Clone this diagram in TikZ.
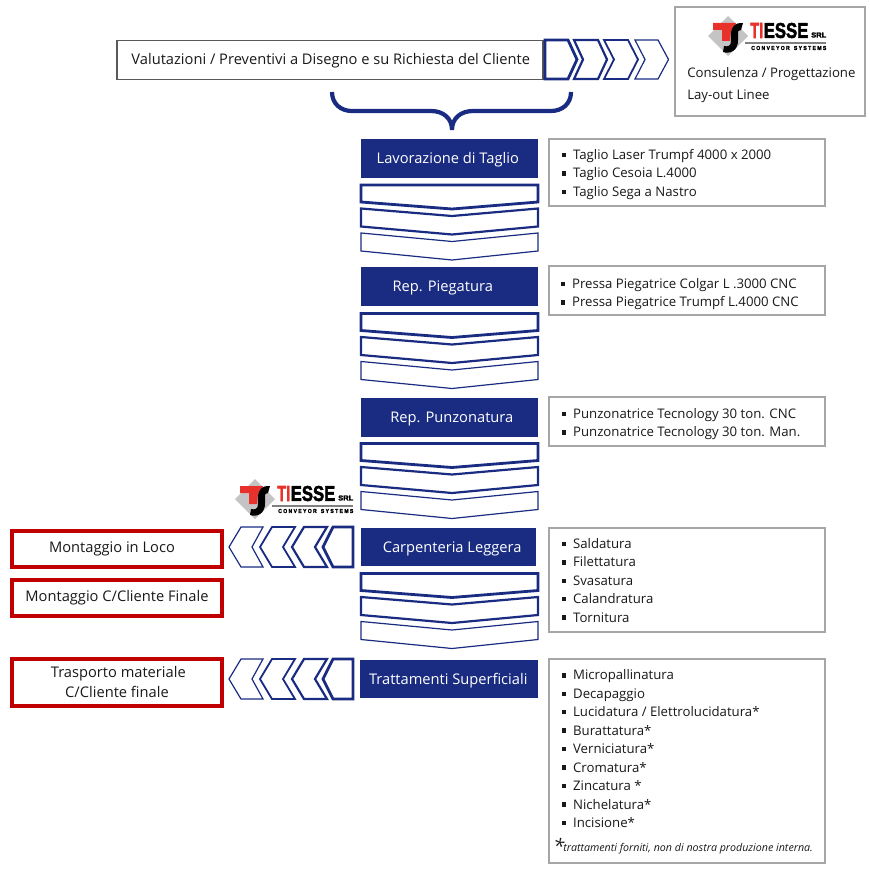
\documentclass[tikz,border=0pt]{standalone}
\usepackage{fontspec}
\setmainfont{Open Sans}
\newfontfamily\logofont[BoldFeatures={FakeBold=2.5}]{Liberation Sans}
\definecolor{tsblue}{HTML}{1A2C82}
\definecolor{tsgrey}{HTML}{A6A6A6}
\definecolor{tsred}{HTML}{C00000}
\definecolor{logored}{HTML}{E8312A}
\definecolor{logogrey}{HTML}{C4C4C4}
\def\px{0.75pt}
\tikzset{
  txt/.style={font=\fontsize{9.9pt}{13.85pt}\selectfont,text=black!90,inner sep=0pt},
  bluebox/.style={fill=tsblue,draw=none,text=white,font=\fontsize{11pt}{12pt}\selectfont,inner sep=0pt,text height=10pt,text depth=2.2pt},
  greybox/.style={draw=tsgrey,line width=2*\px,fill=white},
  redbox/.style={draw=tsred,line width=4*\px,fill=white,font=\fontsize{11pt}{14.8pt}\selectfont,text=black!90,align=center,inner sep=0pt},
  chevA/.style={draw=tsblue,line width=2.8*\px,fill=white,line join=miter},
  chevB/.style={draw=tsblue,line width=2.2*\px,fill=white,line join=miter},
  chevC/.style={draw=tsblue,line width=1.8*\px,fill=white,line join=miter},
  chevD/.style={draw=tsblue,line width=1.2*\px,fill=white,line join=miter},
  listtxt/.style={txt,anchor=north west,align=left},
}
\newcommand{\itm}{\rule[0.17em]{0.34em}{0.34em}\hspace{0.52em}}
\newcommand{\shiftx}[1]{\hspace*{#1pt}}
% vertical group of three chevrons: top y
\newcommand{\downchevs}[1]{%
  \draw[chevA] (361,#1) -- (538,#1) -- (538,#1+17) -- (452,#1+24) -- (361,#1+17) -- cycle;
  \draw[chevB] (361,#1+23.5) -- (452,#1+31) -- (538,#1+23.5) -- (538,#1+41.5) -- (452,#1+49.5) -- (361,#1+41.5) -- cycle;
  \draw[chevD] (361,#1+48) -- (452,#1+56.5) -- (538,#1+48) -- (538,#1+66) -- (452,#1+75) -- (361,#1+66) -- cycle;
}
% horizontal chevrons pointing left: top y
\newcommand{\leftchevs}[1]{%
  \draw[chevD] (229,#1+20) -- (241,#1) -- (263,#1) -- (252,#1+20) -- (263,#1+40) -- (241,#1+40) -- cycle;
  \draw[chevC] (260,#1+20) -- (272,#1) -- (295,#1) -- (283,#1+20) -- (295,#1+40) -- (272,#1+40) -- cycle;
  \draw[chevB] (292,#1+20) -- (304,#1) -- (327,#1) -- (315,#1+20) -- (327,#1+40) -- (304,#1+40) -- cycle;
  \draw[chevA] (323,#1+20) -- (333,#1) -- (353,#1) -- (353,#1+40) -- (333,#1+40) -- cycle;
}
% logo, drawn at the position of the upper logo and shifted
\newcommand{\tslogo}[3]{%
  \begin{scope}[shift={(#1,#2)}]
    \fill[logogrey] (708,36) -- (728,16) -- (748,36) -- (728,56) -- cycle;
    \fill[logored] (713,23) -- (736,23) -- (733,30) -- (731,30) -- (730,41) -- (722,41) -- (722,30) -- (713,30) -- cycle;
    \fill[black] (743,23) -- (741,30) .. controls (738,30) and (738,31) .. (738,34)
      .. controls (738,41) and (739,47) .. (733,51) .. controls (730,53) and (726,53) .. (723,52)
      -- (724,46) .. controls (728,47) and (731,46) .. (731,41)
      .. controls (731,36) and (730,31) .. (733,27) .. controls (736,23) and (739,23) .. (743,23) -- cycle;
    \node[anchor=west,inner sep=0pt] (#3a) at (750,30.5) {\resizebox{13\dimexpr\px\relax}{15\dimexpr\px\relax}{\logofont\bfseries\color{logored}TI}};
    \node[anchor=west,inner sep=0pt] (#3b) at (763.5,30.5) {\resizebox{44.5\dimexpr\px\relax}{15\dimexpr\px\relax}{\logofont\bfseries ESSE}};
    \node[anchor=west,inner sep=0pt] (#3c) at (811,35) {\resizebox{15\dimexpr\px\relax}{5\dimexpr\px\relax}{\logofont\bfseries SRL}};
    \draw[gray,line width=1.1*\px] (745,43) -- (826,43);
    \node[anchor=west,inner sep=0pt] (#3d) at (751,48) {\resizebox{75\dimexpr\px\relax}{4\dimexpr\px\relax}{\logofont\bfseries C O N V E Y O R\ \ \ S Y S T E M S}};
  \end{scope}
}
\begin{document}
\begin{tikzpicture}[x=\px,y=-\px]
\useasboundingbox (0,0) rectangle (870,870);
\fill[white] (0,0) rectangle (870,870);

% top row
\node[draw=black!65,line width=1.5*\px,minimum width=426*\px,minimum height=39*\px,inner sep=0pt,anchor=north west,
  font=\fontsize{11pt}{12pt}\selectfont,text=black!90,text height=8pt,text depth=1pt] (valut) at (116,40) {\shiftx{1.5}Valutazioni / Preventivi a Disegno e su Richiesta del Cliente};
\draw[chevA] (545,40) -- (568,40) -- (577,59.5) -- (568,79) -- (545,79) -- cycle;
\draw[chevB] (574,40) -- (598,40) -- (607,59.5) -- (598,79) -- (574,79) -- (583,59.5) -- cycle;
\draw[chevC] (604,40) -- (628,40) -- (638,59.5) -- (628,79) -- (604,79) -- (614,59.5) -- cycle;
\draw[chevD] (635,40) -- (658,40) -- (668.5,59.5) -- (658,79) -- (635,79) -- (645,59.5) -- cycle;

\node[greybox,minimum width=190*\px,minimum height=109*\px,anchor=north west] (consbox) at (674,6) {};
\tslogo{0}{0}{logoA}
\node[listtxt] (cons) at (687,67.5) {Consulenza / Progettazione\\[2.6pt]Lay-out Linee};

% brace
\draw[tsblue,line width=4.2*\px,line cap=butt] (332,92) .. controls (332,104) and (341,111) .. (352,111)
  -- (431,111) .. controls (443,111) and (452,118) .. (452,130)
  .. controls (452,118) and (461,111) .. (473,111) -- (551,111)
  .. controls (562,111) and (571,104) .. (571,92);

% process boxes
\node[bluebox,minimum width=177*\px,minimum height=39*\px,anchor=north west] (b1) at (361,139) {\shiftx{-3}Lavorazione di Taglio};
\downchevs{185}
\node[bluebox,minimum width=177*\px,minimum height=39*\px,anchor=north west] (b2) at (361,267) {\shiftx{-10.5}Rep. Piegatura};
\downchevs{313.5}
\node[bluebox,minimum width=177*\px,minimum height=39*\px,anchor=north west] (b3) at (361,398) {\shiftx{3}Rep. Punzonatura};
\downchevs{443.5}
\tslogo{-473}{463}{logoB}
\node[bluebox,minimum width=175*\px,minimum height=38*\px,anchor=north west] (b4) at (361,528) {\shiftx{5}Carpenteria Leggera};
\downchevs{573.5}
\node[bluebox,minimum width=178*\px,minimum height=38*\px,anchor=north west] (b5) at (360,660) {\shiftx{-1.5}Trattamenti Superficiali};

% detail boxes
\node[greybox,minimum width=276.5*\px,minimum height=67*\px,anchor=north west] (d1) at (547.5,138) {};
\node[listtxt] (l1) at (561.5,149) {\itm Taglio Laser Trumpf 4000 x 2000\\\itm Taglio Cesoia L.4000\\\itm Taglio Sega a Nastro};
\node[greybox,minimum width=276.5*\px,minimum height=49*\px,anchor=north west] (d2) at (547.5,265) {};
\node[listtxt] (l2) at (560.5,278) {\itm Pressa Piegatrice Colgar L .3000 CNC\\\itm Pressa Piegatrice Trumpf L.4000 CNC};
\node[greybox,minimum width=276.5*\px,minimum height=49*\px,anchor=north west] (d3) at (547.5,396) {};
\node[listtxt] (l3) at (561.5,408) {\itm Punzonatrice Tecnology 30 ton. CNC\\\itm Punzonatrice Tecnology 30 ton. Man.};
\node[greybox,minimum width=276.5*\px,minimum height=104*\px,anchor=north west] (d4) at (547.5,527) {};
\node[listtxt] (l4) at (561.5,538) {\itm Saldatura\\\itm Filettatura\\\itm Svasatura\\\itm Calandratura\\\itm Tornitura};
\node[greybox,minimum width=276.5*\px,minimum height=204*\px,anchor=north west] (d5) at (547.5,658) {};
\node[listtxt] (l5) at (561.5,669.5) {\itm Micropallinatura\\\itm Decapaggio\\\itm Lucidatura / Elettrolucidatura*\\\itm Burattatura*\\\itm Verniciatura*\\\itm Cromatura*\\\itm Zincatura *\\\itm Nichelatura*\\\itm Incisione*};
\node[anchor=base west,inner sep=0pt,font=\fontsize{15pt}{15pt}\selectfont\itshape,text=black!90] (star) at (553,853) {*};
\node[anchor=base west,inner sep=0pt,font=\fontsize{8pt}{9pt}\selectfont\itshape,text=black!90] (note) at (563,851) {trattamenti forniti, non di nostra produzione interna.};

% red boxes
\node[redbox,minimum width=210*\px,minimum height=36*\px,anchor=north west] (r1) at (10,529) {\shiftx{-7.5}Montaggio in Loco};
\node[redbox,minimum width=210*\px,minimum height=36*\px,anchor=north west] (r2) at (10,578) {Montaggio C/Cliente Finale};
\node[redbox,minimum width=210*\px,minimum height=47*\px,anchor=north west] (r3) at (10,656.5) {\shiftx{2}Trasporto materiale\\C/Cliente finale};
\leftchevs{527}
\leftchevs{659}
\end{tikzpicture}
\end{document}
